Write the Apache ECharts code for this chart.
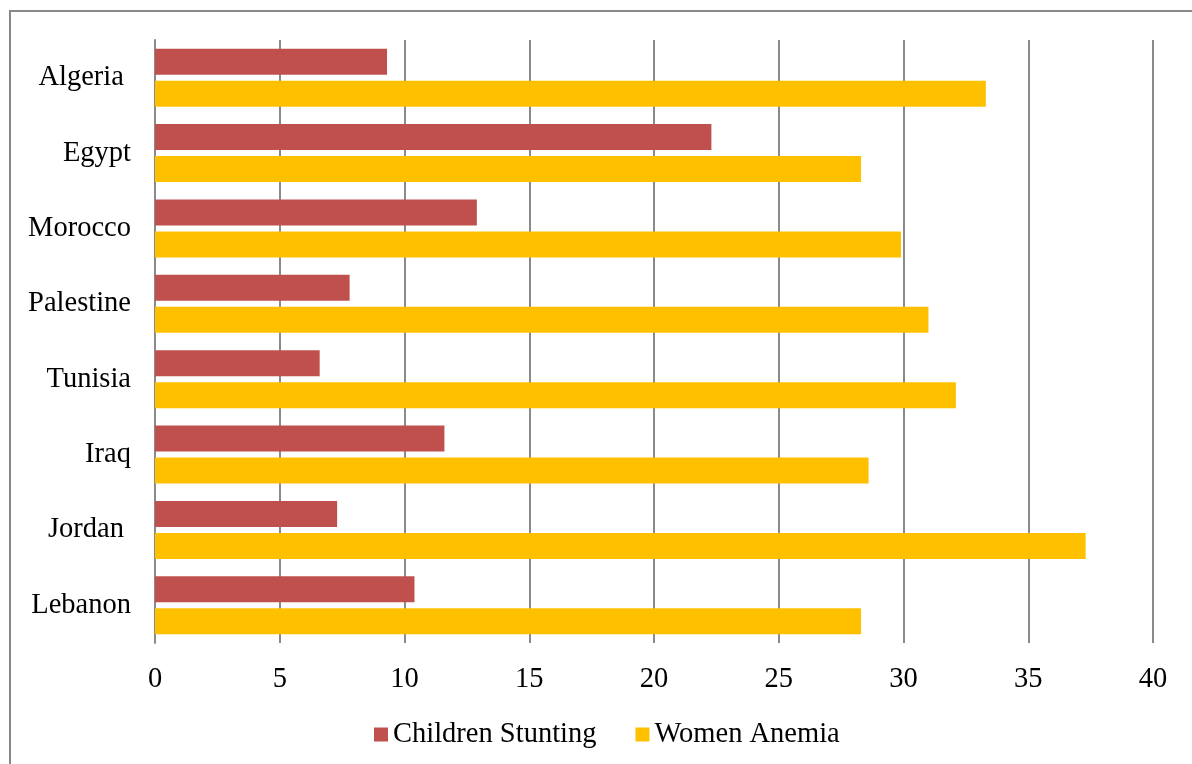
<!DOCTYPE html>
<html>
<head>
<meta charset="utf-8">
<script src="https://cdn.jsdelivr.net/npm/echarts@6/dist/echarts.min.js"></script>
<style>
html,body{margin:0;padding:0;background:#fff;}
#chart{width:1192px;height:764px;}
</style>
</head>
<body>
<div id="chart"></div>
<script>
const categories = ['Algeria ', 'Egypt', 'Morocco', 'Palestine', 'Tunisia', 'Iraq', 'Jordan ', 'Lebanon'];
const childrenStunting = [9.3, 22.3, 12.9, 7.8, 6.6, 11.6, 7.3, 10.4];
const womenAnemia = [33.3, 28.3, 29.9, 31.0, 32.1, 28.6, 37.3, 28.3];
const xTicks = {min: 0, max: 40, interval: 5};

const FONT = '"Liberation Serif", "Times New Roman", serif';
const FS = 28.5;
const chart = echarts.init(document.getElementById('chart'));
chart.setOption({
  animation: false,
  backgroundColor: '#ffffff',
  textStyle: {fontFamily: FONT},
  graphic: [{
    type: 'rect',
    shape: {x: 10, y: 11, width: 1250, height: 800},
    style: {fill: 'none', stroke: '#888888', lineWidth: 2},
    silent: true
  }],
  grid: {left: 155, right: 39, top: 40, bottom: 121, containLabel: false},
  legend: {
    data: ['Children Stunting', 'Women Anemia'],
    left: 374,
    top: 720,
    padding: 0,
    itemWidth: 14,
    itemHeight: 14,
    itemGap: 39,
    icon: 'rect',
    textStyle: {fontFamily: FONT, fontSize: FS, color: '#000'}
  },
  xAxis: {
    type: 'value',
    min: xTicks.min,
    max: xTicks.max,
    interval: xTicks.interval,
    axisLine: {show: false},
    axisTick: {show: false},
    axisLabel: {fontFamily: FONT, fontSize: FS, color: '#000', margin: 22},
    splitLine: {show: true, lineStyle: {color: '#8a8a8a', width: 2}}
  },
  yAxis: {
    type: 'category',
    data: categories,
    inverse: true,
    axisLine: {show: true, lineStyle: {color: '#8a8a8a', width: 2}},
    axisTick: {show: false},
    axisLabel: {fontFamily: FONT, fontSize: FS, color: '#000', margin: 24, padding: [4, 0, 0, 0]}
  },
  series: [
    {
      name: 'Children Stunting',
      type: 'bar',
      data: childrenStunting,
      barWidth: 26,
      barGap: '23%',
      itemStyle: {color: '#C0504D'}
    },
    {
      name: 'Women Anemia',
      type: 'bar',
      data: womenAnemia,
      barWidth: 26,
      barGap: '23%',
      itemStyle: {color: '#FFC000'}
    }
  ]
});
</script>
</body>
</html>
